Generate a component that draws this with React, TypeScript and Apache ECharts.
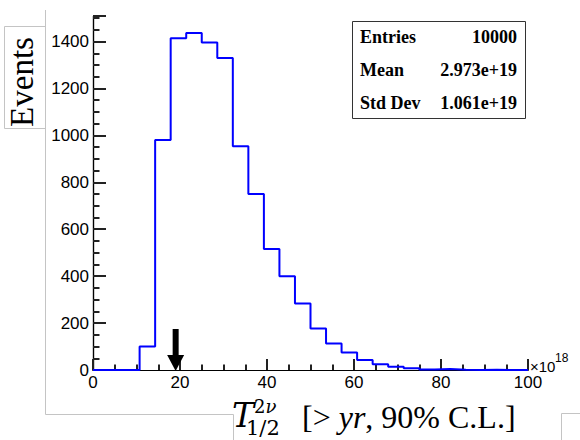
import React, { useEffect, useRef } from "react";
import * as echarts from "echarts";

// Histogram definition
const X_MIN = 0;
const X_MAX = 100;
const BIN_COUNT = 28;
const counts = [0, 0, 0, 100, 980, 1414, 1437, 1396, 1330, 954, 750, 516, 400, 284, 177, 113, 75, 43, 25, 14, 7, 2, 4, 1, 0, 1, 0, 0];
const Y_MIN = 0;
const Y_MAX = 1509;

const xTickInterval = 20;
const yTickInterval = 200;

const statsLabels = ["Entries", "Mean", "Std Dev"];
const statsValues = ["10000", "2.973e+19", "1.061e+19"];

const arrowX = 19;

export default function App() {
  const ref = useRef<HTMLDivElement>(null);

  useEffect(() => {
    if (!ref.current) return;
    const chart = echarts.init(ref.current, undefined, { renderer: "svg" });

    const binWidth = (X_MAX - X_MIN) / BIN_COUNT;
    const histData: [number, number][] = counts.map((c, i) => [X_MIN + i * binWidth, c]);
    histData.push([X_MAX, counts[counts.length - 1]]);

    const gray = "#c4c4c4";
    const serif = "Liberation Serif";
    const sans = "Liberation Sans";
    const tickStyle = { color: "#222", width: 2 };

    const statsTexts: any[] = [];
    const rowY = [37, 70, 103];
    statsLabels.forEach((l, i) => {
      statsTexts.push({
        type: "text",
        x: 360,
        y: rowY[i],
        style: { text: l, font: `bold 18px "${serif}"`, fill: "#000", textAlign: "left", textVerticalAlign: "middle" },
        z: 20,
      });
      statsTexts.push({
        type: "text",
        x: 517,
        y: rowY[i],
        style: { text: statsValues[i], font: `bold 18px "${serif}"`, fill: "#000", textAlign: "right", textVerticalAlign: "middle" },
        z: 20,
      });
    });

    const frameAxis = {
      axisLine: { show: true, lineStyle: { color: "#000", width: 1.2 } },
      axisTick: { show: false },
      minorTick: { show: false },
      axisLabel: { show: false },
      splitLine: { show: false },
    };

    chart.setOption({
      animation: false,
      grid: { left: 93, right: 52, top: 16, bottom: 70, show: false },
      xAxis: [
        {
          type: "value",
          min: X_MIN,
          max: X_MAX,
          interval: xTickInterval,
          axisLine: { show: true, onZero: false, lineStyle: { color: "#000", width: 1.2 } },
          axisTick: { show: true, inside: true, length: 11, lineStyle: tickStyle },
          minorTick: { show: true, splitNumber: 4, length: 5.5, lineStyle: tickStyle },
          splitLine: { show: false },
          axisLabel: { color: "#000", fontFamily: sans, fontSize: 17, margin: 4, formatter: (v: number) => String(v) },
        },
        { type: "value", position: "top", min: X_MIN, max: X_MAX, ...frameAxis },
      ],
      yAxis: [
        {
          type: "value",
          min: Y_MIN,
          max: Y_MAX,
          interval: yTickInterval,
          axisLine: { show: true, onZero: false, lineStyle: { color: "#000", width: 1.2 } },
          axisTick: { show: true, inside: true, length: 13, lineStyle: tickStyle },
          minorTick: { show: true, splitNumber: 4, length: 6.5, lineStyle: tickStyle },
          splitLine: { show: false },
          axisLabel: {
            color: "#000",
            fontFamily: sans,
            fontSize: 17,
            margin: 4,
            showMaxLabel: false,
            formatter: (v: number) => (v > 1500 ? "" : String(v)),
          },
        },
        { type: "value", position: "right", min: Y_MIN, max: Y_MAX, ...frameAxis },
      ],
      series: [
        {
          type: "line",
          step: "end",
          data: histData,
          symbol: "none",
          lineStyle: { color: "#0000ff", width: 2 },
          z: 5,
        },
        {
          type: "custom",
          data: [[arrowX, 0]],
          z: 10,
          renderItem: (params: any, api: any) => {
            const p = api.coord([api.value(0), api.value(1)]);
            return {
              type: "group",
              children: [
                {
                  type: "rect",
                  shape: { x: p[0] - 3, y: p[1] - 41, width: 6, height: 27 },
                  style: { fill: "#000" },
                },
                {
                  type: "polygon",
                  shape: { points: [[p[0] - 8.5, p[1] - 15], [p[0] + 8.5, p[1] - 15], [p[0], p[1] + 1]] },
                  style: { fill: "#000" },
                },
              ],
            };
          },
        },
      ],
      graphic: [
        // pasted-panel borders
        { type: "polyline", shape: { points: [[45.5, 10], [45.5, 414.5], [233.5, 414.5], [233.5, 440]] }, style: { stroke: gray, lineWidth: 1 }, z: 1 },
        { type: "polyline", shape: { points: [[45.5, 26.5], [4.5, 26.5], [4.5, 128.5], [45.5, 128.5]] }, style: { stroke: gray, lineWidth: 1 }, z: 1 },
        { type: "polyline", shape: { points: [[580, 413.5], [561.5, 413.5], [561.5, 440]] }, style: { stroke: gray, lineWidth: 1 }, z: 1 },
        // y title
        {
          type: "text",
          x: 22,
          y: 82,
          rotation: Math.PI / 2,
          style: { text: "Events", font: `33px "${serif}"`, fill: "#000", textAlign: "center", textVerticalAlign: "middle" },
          z: 20,
        },
        // x multiplier
        { type: "text", x: 530, y: 366, style: { text: "×10", font: `15px "${sans}"`, fill: "#000", textAlign: "left", textVerticalAlign: "middle" }, z: 20 },
        { type: "text", x: 555, y: 358, style: { text: "18", font: `12px "${sans}"`, fill: "#000", textAlign: "left", textVerticalAlign: "middle" }, z: 20 },
        // x title
        { type: "text", x: 232, y: 415, style: { text: "T", font: `italic 33px "DejaVu Serif"`, fill: "#000", textAlign: "left", textVerticalAlign: "middle" }, z: 20 },
        {
          type: "text",
          x: 254,
          y: 406,
          style: {
            text: "{u|2}{i|ν}",
            rich: {
              u: { font: `18px "DejaVu Serif"`, fill: "#000" },
              i: { font: `italic 18px "DejaVu Serif"`, fill: "#000" },
            },
            textAlign: "left",
            textVerticalAlign: "middle",
          },
          z: 20,
        },
        { type: "text", x: 246, y: 428, style: { text: "1/2", font: `21px "DejaVu Serif"`, fill: "#000", textAlign: "left", textVerticalAlign: "middle" }, z: 20 },
        {
          type: "text",
          x: 302,
          y: 417,
          style: {
            text: "{n|[> }{i|yr}{n|, 90% C.L.]}",
            rich: {
              n: { font: `32px "${serif}"`, fill: "#000" },
              i: { font: `italic 32px "${serif}"`, fill: "#000" },
            },
            textAlign: "left",
            textVerticalAlign: "middle",
          },
          z: 20,
        },
        // stats box
        {
          type: "rect",
          shape: { x: 352.5, y: 21.5, width: 173, height: 97 },
          style: { fill: "#fff", stroke: "#333", lineWidth: 1 },
          z: 15,
        },
        ...statsTexts,
      ],
    });

    return () => chart.dispose();
  }, []);

  return <div ref={ref} style={{ position: "fixed", left: 0, top: 0, width: 580, height: 440, background: "#fff" }} />;
}
